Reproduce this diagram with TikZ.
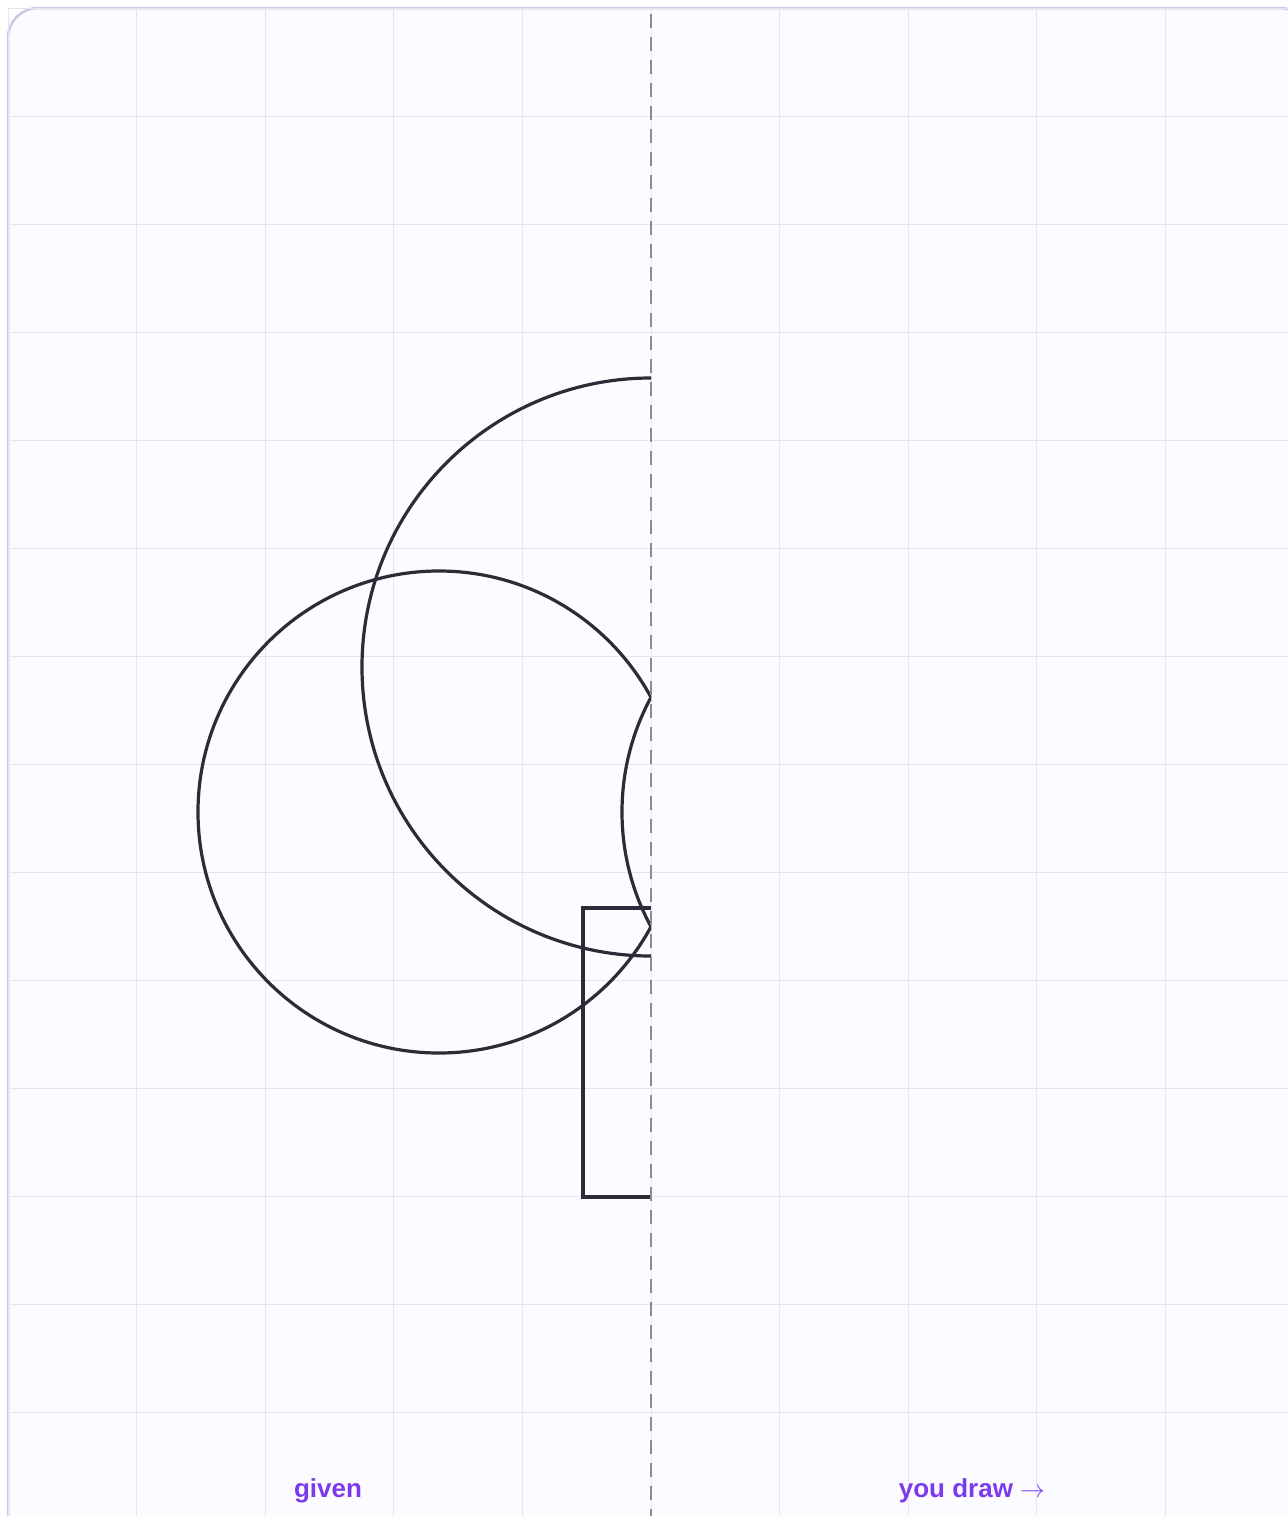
\documentclass[tikz,border=0pt]{standalone}
\usepackage{fontspec}
\setmainfont{Liberation Sans}
\usepackage{xcolor}
\definecolor{paperBg}{HTML}{FCFBFF}
\definecolor{frameLine}{HTML}{C9C9EC}
\definecolor{gridLine}{HTML}{E6E5EE}
\definecolor{inkDark}{HTML}{2D2B38}
\definecolor{axisGray}{HTML}{8C8A94}
\definecolor{miMorado}{HTML}{7C3AED}

\begin{document}
\begin{tikzpicture}[
  x=1pt, y=-1pt,
  every node/.style={align=center},
  paper/.style={draw=frameLine, line width=2.5pt, fill=paperBg, rounded corners=30pt},
  gridline/.style={draw=gridLine, line width=1pt},
  outline/.style={draw=inkDark, line width=3.2pt},
  mirror/.style={draw=axisGray, line width=2pt, dash pattern=on 14pt off 9pt},
  label/.style={font=\bfseries\fontsize{26}{30}\selectfont, text=miMorado},
]
\useasboundingbox (0,0) rectangle (1288,1516);

% Paper with grid
\path[paper] (8,8) rectangle (1310,1540);
\foreach \i in {0,...,10} {
  \draw[gridline] (8+128.6*\i,8) -- (8+128.6*\i,1516);
}
\foreach \j in {0,...,14} {
  \draw[gridline] (8,8+108*\j) -- (1288,8+108*\j);
}

% Given half (left of the mirror line)
\begin{scope}
  \clip (0,0) rectangle (651,1516);
  \draw[outline] (651,667) circle[radius=289];
  \draw[outline] (439,812) circle[radius=241];
  % part of the circle past the line, folded back
  \draw[outline] (863,812) circle[radius=241];
\end{scope}
\draw[outline] (651,908) -- (583,908) -- (583,1197) -- (651,1197);

% Mirror line
\draw[mirror] (651,14) -- (651,1516);

% Labels under each half
\node[label] (given) at (328,1491) {given};
\node[label] (draw) at (972,1491) {you draw $\rightarrow$};

\end{tikzpicture}
\end{document}
